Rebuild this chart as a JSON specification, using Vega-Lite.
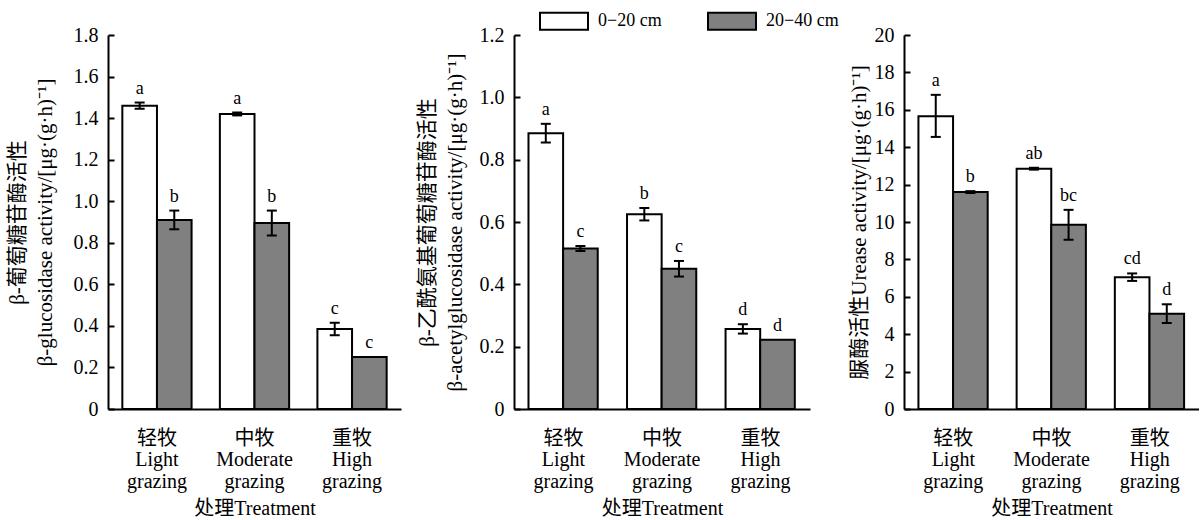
{
  "$schema": "https://vega.github.io/schema/vega-lite/v6.json",
  "padding": {"left": 6, "top": 12, "right": 0, "bottom": 0},
  "background": "white",
  "datasets": {
    "d": [
      {"panel": 1, "group": "轻牧 Light grazing", "layer": "0−20 cm", "value": 1.46, "lo": 1.445, "hi": 1.475, "letter": "a"},
      {"panel": 1, "group": "轻牧 Light grazing", "layer": "20−40 cm", "value": 0.91, "lo": 0.865, "hi": 0.955, "letter": "b"},
      {"panel": 1, "group": "中牧 Moderate grazing", "layer": "0−20 cm", "value": 1.42, "lo": 1.413, "hi": 1.427, "letter": "a"},
      {"panel": 1, "group": "中牧 Moderate grazing", "layer": "20−40 cm", "value": 0.895, "lo": 0.835, "hi": 0.955, "letter": "b"},
      {"panel": 1, "group": "重牧 High grazing", "layer": "0−20 cm", "value": 0.385, "lo": 0.355, "hi": 0.415, "letter": "c"},
      {"panel": 1, "group": "重牧 High grazing", "layer": "20−40 cm", "value": 0.25, "lo": null, "hi": null, "letter": "c"},
      {"panel": 2, "group": "轻牧 Light grazing", "layer": "0−20 cm", "value": 0.885, "lo": 0.855, "hi": 0.915, "letter": "a"},
      {"panel": 2, "group": "轻牧 Light grazing", "layer": "20−40 cm", "value": 0.515, "lo": 0.507, "hi": 0.523, "letter": "c"},
      {"panel": 2, "group": "中牧 Moderate grazing", "layer": "0−20 cm", "value": 0.625, "lo": 0.605, "hi": 0.645, "letter": "b"},
      {"panel": 2, "group": "中牧 Moderate grazing", "layer": "20−40 cm", "value": 0.45, "lo": 0.425, "hi": 0.475, "letter": "c"},
      {"panel": 2, "group": "重牧 High grazing", "layer": "0−20 cm", "value": 0.257, "lo": 0.242, "hi": 0.272, "letter": "d"},
      {"panel": 2, "group": "重牧 High grazing", "layer": "20−40 cm", "value": 0.222, "lo": null, "hi": null, "letter": "d"},
      {"panel": 3, "group": "轻牧 Light grazing", "layer": "0−20 cm", "value": 15.65, "lo": 14.55, "hi": 16.8, "letter": "a"},
      {"panel": 3, "group": "轻牧 Light grazing", "layer": "20−40 cm", "value": 11.6, "lo": 11.55, "hi": 11.65, "letter": "b"},
      {"panel": 3, "group": "中牧 Moderate grazing", "layer": "0−20 cm", "value": 12.85, "lo": 12.8, "hi": 12.9, "letter": "ab"},
      {"panel": 3, "group": "中牧 Moderate grazing", "layer": "20−40 cm", "value": 9.85, "lo": 9.05, "hi": 10.65, "letter": "bc"},
      {"panel": 3, "group": "重牧 High grazing", "layer": "0−20 cm", "value": 7.05, "lo": 6.85, "hi": 7.25, "letter": "cd"},
      {"panel": 3, "group": "重牧 High grazing", "layer": "20−40 cm", "value": 5.1, "lo": 4.6, "hi": 5.6, "letter": "d"}
    ]
  },
  "data": {"name": "d"},
  "spacing": 15,
  "config": {
    "view": {"stroke": null},
    "font": "Liberation Serif, Noto Sans CJK SC",
    "axis": {
      "domainColor": "black", "domainWidth": 2, "tickColor": "black", "tickWidth": 2,
      "labelColor": "black", "labelFont": "Liberation Serif, Noto Sans CJK SC", "labelFontSize": 20,
      "titleColor": "black", "titleFont": "Liberation Serif, Noto Sans CJK SC", "titleFontSize": 20, "titleFontWeight": "normal",
      "grid": false, "labelOverlap": false
    },
    "axisY": {"tickSize": -6, "labelPadding": 16, "titlePadding": 14, "titleLineHeight": 28, "titleFontSize": 21},
    "axisX": {"ticks": false, "labelAngle": 0, "labelPadding": 19, "labelLineHeight": 21.5, "titlePadding": 7, "labelExpr": "split(datum.label, ' ')"},
    "legend": {
      "orient": "none", "legendX": 447, "legendY": -23, "direction": "horizontal", "title": null,
      "symbolType": "M-3,-1.06L3,-1.06L3,1.06L-3,1.06Z", "symbolSize": 256, "symbolStrokeColor": "black", "symbolStrokeWidth": 2,
      "labelFont": "Liberation Serif", "labelFontSize": 18, "labelColor": "black", "labelOffset": 25, "columnPadding": 42, "symbolOpacity": 1
    }
  },
  "hconcat": [
    {
      "width": 293, "height": 374,
      "transform": [{"filter": "datum.panel == 1"}],
      "encoding": {
        "x": {"field": "group", "type": "nominal", "sort": ["轻牧 Light grazing", "中牧 Moderate grazing", "重牧 High grazing"], "scale": {"paddingInner": 0.29, "paddingOuter": 0.147}, "title": "处理Treatment"},
        "xOffset": {"field": "layer", "type": "nominal", "sort": ["0−20 cm", "20−40 cm"], "scale": {"paddingInner": 0, "paddingOuter": 0}}
      },
      "layer": [
        {"mark": {"type": "bar", "stroke": "black", "strokeWidth": 2},
         "encoding": {
           "y": {"field": "value", "type": "quantitative", "scale": {"domain": [0, 1.8]}, "axis": {"values": [0, 0.2, 0.4, 0.6, 0.8, 1.0, 1.2, 1.4, 1.6, 1.8], "tickCount": 12, "titlePadding": 18, "labelExpr": "datum.value == 0 ? '0' : format(datum.value, '.1f')"}, "title": ["β-葡萄糖苷酶活性", "β-glucosidase activity/[μg·(g·h)⁻¹]"]},
           "fill": {"field": "layer", "type": "nominal", "scale": {"domain": ["0−20 cm", "20−40 cm"], "range": ["white", "#808080"]}}
         }},
        {"transform": [{"filter": "datum.lo != null"}], "mark": {"type": "rule", "color": "black", "strokeWidth": 2},
         "encoding": {"y": {"field": "lo", "type": "quantitative"}, "y2": {"field": "hi"}}},
        {"transform": [{"filter": "datum.lo != null"}], "mark": {"type": "tick", "color": "black", "thickness": 2, "size": 10, "opacity": 1},
         "encoding": {"y": {"field": "lo", "type": "quantitative"}}},
        {"transform": [{"filter": "datum.lo != null"}], "mark": {"type": "tick", "color": "black", "thickness": 2, "size": 10, "opacity": 1},
         "encoding": {"y": {"field": "hi", "type": "quantitative"}}},
        {"transform": [{"filter": "datum.hi != null"}], "mark": {"type": "text", "font": "Liberation Serif", "fontSize": 18, "dy": -9, "baseline": "alphabetic", "color": "black"},
         "encoding": {"y": {"field": "hi", "type": "quantitative"}, "text": {"field": "letter"}}},
        {"transform": [{"filter": "datum.hi == null"}], "mark": {"type": "text", "font": "Liberation Serif", "fontSize": 18, "dy": -9, "baseline": "alphabetic", "color": "black"},
         "encoding": {"y": {"field": "value", "type": "quantitative"}, "text": {"field": "letter"}}}
      ]
    },
    {
      "spacing": 38,
      "hconcat": [
        {
          "width": 296, "height": 374,
          "transform": [{"filter": "datum.panel == 2"}],
          "encoding": {
            "x": {"field": "group", "type": "nominal", "sort": ["轻牧 Light grazing", "中牧 Moderate grazing", "重牧 High grazing"], "scale": {"paddingInner": 0.29, "paddingOuter": 0.147}, "title": "处理Treatment"},
            "xOffset": {"field": "layer", "type": "nominal", "sort": ["0−20 cm", "20−40 cm"], "scale": {"paddingInner": 0, "paddingOuter": 0}}
          },
          "layer": [
            {"mark": {"type": "bar", "stroke": "black", "strokeWidth": 2},
             "encoding": {
               "y": {"field": "value", "type": "quantitative", "scale": {"domain": [0, 1.2]}, "axis": {"values": [0, 0.2, 0.4, 0.6, 0.8, 1.0, 1.2], "tickCount": 12, "labelExpr": "datum.value == 0 ? '0' : format(datum.value, '.1f')"}, "title": ["β-乙酰氨基葡萄糖苷酶活性", "β-acetylglucosidase activity/[μg·(g·h)⁻¹]"]},
               "fill": {"field": "layer", "type": "nominal", "scale": {"domain": ["0−20 cm", "20−40 cm"], "range": ["white", "#808080"]}}
             }},
            {"transform": [{"filter": "datum.lo != null"}], "mark": {"type": "rule", "color": "black", "strokeWidth": 2},
             "encoding": {"y": {"field": "lo", "type": "quantitative"}, "y2": {"field": "hi"}}},
            {"transform": [{"filter": "datum.lo != null"}], "mark": {"type": "tick", "color": "black", "thickness": 2, "size": 10, "opacity": 1},
             "encoding": {"y": {"field": "lo", "type": "quantitative"}}},
            {"transform": [{"filter": "datum.lo != null"}], "mark": {"type": "tick", "color": "black", "thickness": 2, "size": 10, "opacity": 1},
             "encoding": {"y": {"field": "hi", "type": "quantitative"}}},
            {"transform": [{"filter": "datum.hi != null"}], "mark": {"type": "text", "font": "Liberation Serif", "fontSize": 18, "dy": -9, "baseline": "alphabetic", "color": "black"},
             "encoding": {"y": {"field": "hi", "type": "quantitative"}, "text": {"field": "letter"}}},
            {"transform": [{"filter": "datum.hi == null"}], "mark": {"type": "text", "font": "Liberation Serif", "fontSize": 18, "dy": -9, "baseline": "alphabetic", "color": "black"},
             "encoding": {"y": {"field": "value", "type": "quantitative"}, "text": {"field": "letter"}}}
          ]
        },
        {
          "width": 295, "height": 374,
          "transform": [{"filter": "datum.panel == 3"}],
          "encoding": {
            "x": {"field": "group", "type": "nominal", "sort": ["轻牧 Light grazing", "中牧 Moderate grazing", "重牧 High grazing"], "scale": {"paddingInner": 0.29, "paddingOuter": 0.147}, "title": "处理Treatment"},
            "xOffset": {"field": "layer", "type": "nominal", "sort": ["0−20 cm", "20−40 cm"], "scale": {"paddingInner": 0, "paddingOuter": 0}}
          },
          "layer": [
            {"mark": {"type": "bar", "stroke": "black", "strokeWidth": 2},
             "encoding": {
               "y": {"field": "value", "type": "quantitative", "scale": {"domain": [0, 20]}, "axis": {"values": [0, 2, 4, 6, 8, 10, 12, 14, 16, 18, 20], "tickCount": 12, "titlePadding": 5, "labelOverlap": false, "labelExpr": "format(datum.value, 'd')"}, "title": "脲酶活性Urease activity/[μg·(g·h)⁻¹]"},
               "fill": {"field": "layer", "type": "nominal", "scale": {"domain": ["0−20 cm", "20−40 cm"], "range": ["white", "#808080"]}}
             }},
            {"transform": [{"filter": "datum.lo != null"}], "mark": {"type": "rule", "color": "black", "strokeWidth": 2},
             "encoding": {"y": {"field": "lo", "type": "quantitative"}, "y2": {"field": "hi"}}},
            {"transform": [{"filter": "datum.lo != null"}], "mark": {"type": "tick", "color": "black", "thickness": 2, "size": 10, "opacity": 1},
             "encoding": {"y": {"field": "lo", "type": "quantitative"}}},
            {"transform": [{"filter": "datum.lo != null"}], "mark": {"type": "tick", "color": "black", "thickness": 2, "size": 10, "opacity": 1},
             "encoding": {"y": {"field": "hi", "type": "quantitative"}}},
            {"transform": [{"filter": "datum.hi != null"}], "mark": {"type": "text", "font": "Liberation Serif", "fontSize": 18, "dy": -9, "baseline": "alphabetic", "color": "black"},
             "encoding": {"y": {"field": "hi", "type": "quantitative"}, "text": {"field": "letter"}}},
            {"transform": [{"filter": "datum.hi == null"}], "mark": {"type": "text", "font": "Liberation Serif", "fontSize": 18, "dy": -9, "baseline": "alphabetic", "color": "black"},
             "encoding": {"y": {"field": "value", "type": "quantitative"}, "text": {"field": "letter"}}}
          ]
        }
      ]
    }
  ]
}
